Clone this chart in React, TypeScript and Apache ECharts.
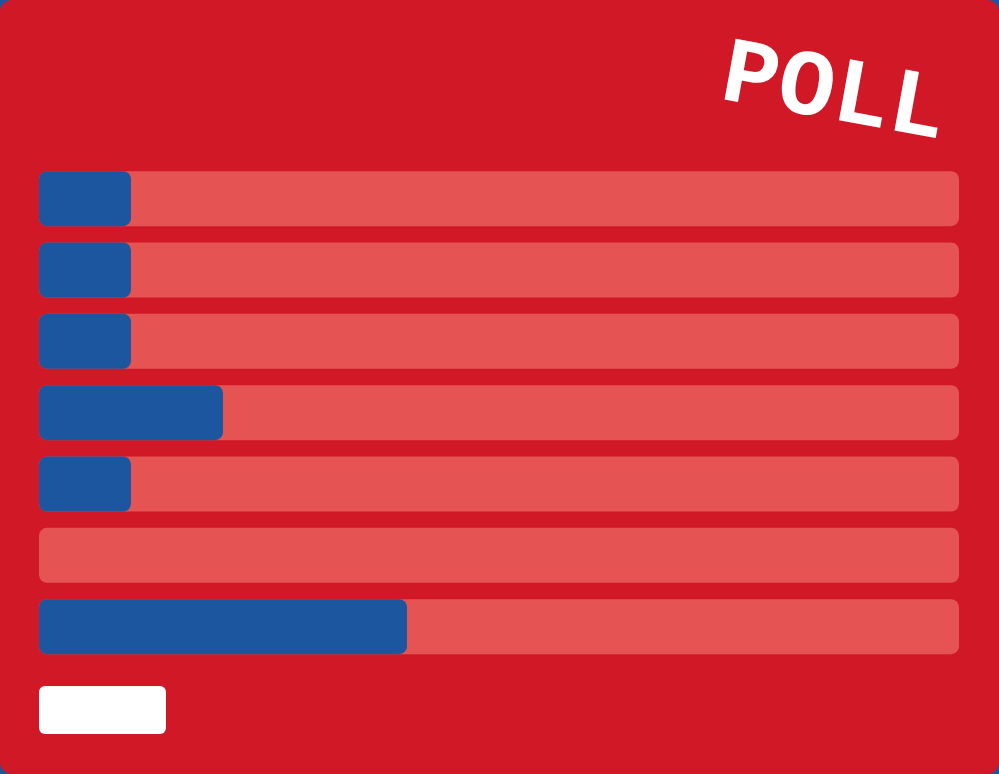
import React, { useEffect, useRef } from "react";
import * as echarts from "echarts";

const categories = ["Option 1", "Option 2", "Option 3", "Option 4", "Option 5", "Option 6", "Option 7"];
const votes = [10, 10, 10, 20, 10, 0, 40];
const maxValue = 100;
const title = "POLL";

export default function App() {
  const ref = useRef<HTMLDivElement>(null);
  useEffect(() => {
    if (!ref.current) return;
    const chart = echarts.init(ref.current, undefined, { renderer: "svg" });
    chart.setOption({
      animation: false,
      backgroundColor: "transparent",
      graphic: [
        {
          type: "rect",
          z: -10,
          shape: { x: 0, y: 0, width: 999, height: 774, r: 12 },
          style: { fill: "#d01826" },
        },
        {
          type: "text",
          x: 834,
          y: 94,
          rotation: -0.18,
          style: {
            text: title,
            fill: "#ffffff",
            fontFamily: "'Courier New', Courier, 'Nimbus Mono PS', 'Nimbus Mono L', FreeMono, 'Liberation Mono', monospace",
            fontWeight: "bold",
            fontSize: 94,
            align: "center",
            verticalAlign: "middle",
          },
        },
        {
          type: "rect",
          shape: { x: 39, y: 686, width: 127, height: 48, r: 6 },
          style: { fill: "#ffffff" },
        },
      ],
      grid: { left: 39, right: 40, top: 163, bottom: 111.7 },
      xAxis: {
        type: "value",
        min: 0,
        max: maxValue,
        show: false,
      },
      yAxis: {
        type: "category",
        data: categories,
        inverse: true,
        show: false,
      },
      series: [
        {
          type: "bar",
          data: votes,
          barWidth: 55,
          showBackground: true,
          backgroundStyle: { color: "#e55353", borderRadius: 8 },
          itemStyle: { color: "#1c569e", borderRadius: 8 },
        },
      ],
    });
    return () => chart.dispose();
  }, []);
  return (
    <div
      style={{
        position: "fixed",
        left: 0,
        top: 0,
        width: 999,
        height: 774,
        background: "#1c569e",
      }}
    >
      <div ref={ref} style={{ width: 999, height: 774 }} />
    </div>
  );
}
